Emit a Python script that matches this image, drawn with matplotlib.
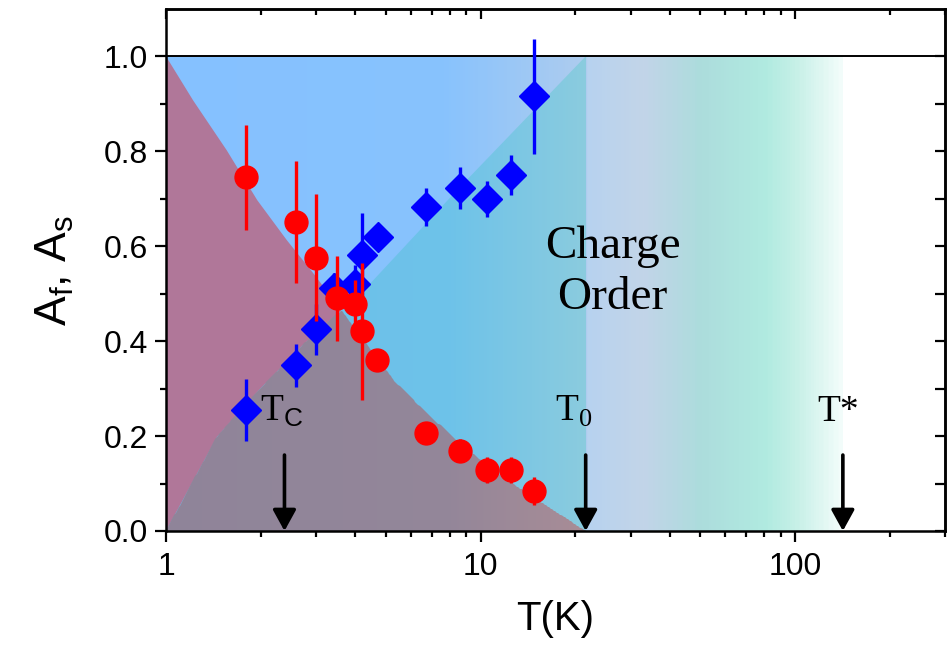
import numpy as np
import matplotlib
matplotlib.use("Agg")
import matplotlib.pyplot as plt
from matplotlib.colors import LinearSegmentedColormap, Normalize
from matplotlib.patches import Polygon

# measured amplitudes (red circles = A_f, blue diamonds = A_s)
T_F = [1.79, 2.59, 2.99, 3.50, 4.00, 4.20, 4.69, 6.71, 8.59, 10.5, 12.5, 14.8]
A_F = [0.745, 0.651, 0.576, 0.490, 0.479, 0.421, 0.360, 0.206, 0.169, 0.128, 0.128, 0.084]
ERR_F = [0.11, 0.128, 0.133, 0.09, 0.05, 0.144, 0.0, 0.023, 0.024, 0.027, 0.027, 0.03]

T_S = [1.80, 2.59, 2.99, 3.43, 4.00, 4.20, 4.71, 6.71, 8.59, 10.5, 12.5, 14.8]
A_S = [0.255, 0.349, 0.425, 0.513, 0.521, 0.581, 0.620, 0.683, 0.723, 0.699, 0.750, 0.916]
ERR_S = [0.066, 0.045, 0.054, 0.03, 0.04, 0.09, 0.0, 0.04, 0.045, 0.038, 0.042, 0.121]

# phase-region boundaries
FALL_T = [1.0, 1.22, 1.56, 1.95, 2.42, 2.94, 5.30, 6.76, 8.63, 11.0, 14.1, 21.6]
FALL_A = [1.0, 0.907, 0.802, 0.697, 0.613, 0.543, 0.318, 0.248, 0.185, 0.128, 0.079, 0.0]
RISE_T = [1.0, 1.45, 1.99, 2.74, 4.36, 8.63, 21.6]
RISE_A = [0.0, 0.199, 0.30, 0.395, 0.514, 0.725, 1.0]

T_C, T_0, T_STAR = 2.38, 21.6, 142.0

SANS = "Liberation Sans"
SERIF = "Liberation Serif"

plt.rcParams["font.family"] = SANS
plt.rcParams["mathtext.fontset"] = "custom"
plt.rcParams["mathtext.rm"] = SERIF
plt.rcParams["mathtext.sf"] = SANS


def gradient_patch(ax, verts, stops, x0, x1, z):
    """Fill polygon `verts` with a horizontal (log-x) colour gradient."""
    poly = Polygon(verts, closed=True, facecolor="none", edgecolor="none")
    ax.add_patch(poly)
    l0, l1 = np.log10(x0), np.log10(x1)
    cmap = LinearSegmentedColormap.from_list(
        "g", [((p - l0) / (l1 - l0), c) for p, c in stops])
    edges = np.logspace(l0, l1, 400)
    centers = np.log10(np.sqrt(edges[:-1] * edges[1:]))
    mesh = ax.pcolormesh(edges, [0, 1], centers[None, :], cmap=cmap,
                         norm=Normalize(l0, l1), shading="flat", zorder=z,
                         antialiased=False, linewidth=0)
    mesh.set_clip_path(poly)
    return mesh


fig = plt.figure(figsize=(9.51, 6.48), dpi=100)
ax = fig.add_axes([0.1746, 0.1806, 0.8191, 0.8056])
ax.set_xscale("log")
ax.set_xlim(1, 300)
ax.set_ylim(0, 1.1)

lt0 = np.log10(T_0)
# background band up to T*
bg_stops = [(0.0, "#85C1FF"), (0.88, "#87C2FD"), (lt0, "#AECCEE"),
            (lt0 + 0.01, "#B7D2EF"), (1.52, "#C2D4E8"), (1.62, "#B6D8E2"),
            (1.70, "#ACDCDC"), (1.91, "#B0EAE0"), (2.0, "#C4EFE6"),
            (np.log10(T_STAR), "#F2FCFA")]
gradient_patch(ax, [(1, 0), (T_STAR, 0), (T_STAR, 1), (1, 1)], bg_stops, 1, T_STAR, 1)

# decreasing region
fall = list(zip(FALL_T, FALL_A))
ax.add_patch(Polygon([(1, 0)] + fall, closed=True, facecolor="#B07799",
                     edgecolor="none", zorder=2))

# increasing region
rise = list(zip(RISE_T, RISE_A))
cyan_stops = [(0.0, "#6BBEEA"), (0.9, "#6DC2E9"), (lt0, "#8ACBDE")]
gradient_patch(ax, rise + [(T_0, 0)], cyan_stops, 1, T_0, 3)

# overlap of both regions
g = np.logspace(0, lt0, 400)
top = np.minimum(np.interp(np.log10(g), np.log10(FALL_T), FALL_A),
                 np.interp(np.log10(g), np.log10(RISE_T), RISE_A))
over_stops = [(0.0, "#8F8499"), (0.9, "#938699"), (lt0, "#A88C96")]
gradient_patch(ax, [(1, 0)] + list(zip(g, top)) + [(T_0, 0)], over_stops, 1, T_0, 4)

ax.axhline(1.0, color="black", lw=1.4, zorder=5)

# data
ax.errorbar(T_S, A_S, yerr=ERR_S, fmt="D", color="#0000FF", ms=15.5,
            elinewidth=2.4, capsize=0, zorder=6)
ax.errorbar(T_F, A_F, yerr=ERR_F, fmt="o", color="#FF0000", ms=16.5,
            elinewidth=2.4, capsize=0, zorder=7)

# arrows
for t in (T_C, T_0, T_STAR):
    ax.annotate("", xy=(t, 0.0), xytext=(t, 0.16),
                arrowprops=dict(arrowstyle="-|>,head_length=0.4,head_width=0.22",
                                color="black", lw=2.6, mutation_scale=32,
                                shrinkA=0, shrinkB=0), zorder=8)

ax.text(1.99, 0.232, r"T$_{\mathsf{C}}$", family=SERIF, fontsize=27, zorder=9)
ax.text(17.3, 0.232, r"T$_{\mathrm{0}}$", family=SERIF, fontsize=27, zorder=9)
ax.text(118, 0.232, "T*", family=SERIF, fontsize=27, zorder=9)
ax.text(26.3, 0.545, "Charge\nOrder", family=SERIF, fontsize=34,
        ha="center", va="center", linespacing=1.25, zorder=9)

# axes styling
for s in ax.spines.values():
    s.set_linewidth(1.8)
    s.set_zorder(10)
ax.set_xticks([1, 10, 100])
ax.set_xticklabels(["1", "10", "100"])
ax.set_yticks(np.arange(0, 1.01, 0.2))
ax.set_yticklabels([f"{v:.1f}" for v in np.arange(0, 1.01, 0.2)])
ax.set_yticks(np.arange(0.1, 1.1, 0.2), minor=True)
ax.tick_params(which="major", direction="out", length=8, width=1.6,
               labelsize=23, pad=5)
ax.tick_params(which="minor", direction="out", length=4.5, width=1.6)
ax.tick_params(axis="x", which="major", pad=7)

top_ax = ax.secondary_xaxis("top")
top_ax.set_xticks([1, 10, 100])
top_ax.tick_params(which="major", direction="in", length=7, width=1.6, labeltop=False)
top_ax.tick_params(which="minor", direction="in", length=4, width=1.6)
top_ax.spines["top"].set_linewidth(1.8)

right_ax = ax.secondary_yaxis("right")
right_ax.set_yticks(np.arange(0, 1.01, 0.1))
right_ax.tick_params(which="major", direction="in", length=7, width=1.6, labelright=False)
right_ax.spines["right"].set_linewidth(1.8)

ax.set_xlabel("T(K)", fontsize=29, labelpad=13)
ax.set_ylabel(r"A$_{\mathsf{f}}$, A$_{\mathsf{s}}$", fontsize=32, labelpad=20)

fig.savefig("out.png", dpi=100)
